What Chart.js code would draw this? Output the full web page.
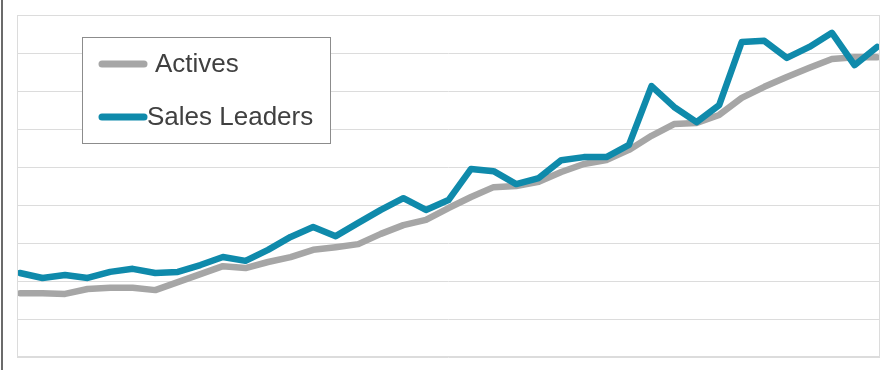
<!DOCTYPE html>
<html>
<head>
<meta charset="utf-8">
<title>Actives vs Sales Leaders</title>
<script src="https://cdn.jsdelivr.net/npm/chart.js@4"></script>
<style>
    html, body { margin: 0; padding: 0; background: #ffffff; }
    #wrap { position: relative; width: 893px; height: 370px; }
</style>
</head>
<body>
<div id="wrap"><canvas id="trendChart" width="893" height="370"></canvas></div>
<script>
// period index along the x axis
const periods = [0, 1, 2, 3, 4, 5, 6, 7, 8, 9, 10, 11, 12, 13, 14, 15, 16, 17, 18, 19,
    20, 21, 22, 23, 24, 25, 26, 27, 28, 29, 30, 31, 32, 33, 34, 35, 36, 37, 38];

const activesValues = [16.8, 16.8, 16.6, 17.9, 18.2, 18.2, 17.6, 19.7, 21.8, 23.9,
    23.4, 25.0, 26.3, 28.2, 28.9, 29.7, 32.4, 34.7, 36.1, 39.2,
    42.1, 44.7, 45.0, 46.1, 48.7, 50.8, 51.8, 54.5, 58.2, 61.3,
    61.6, 63.7, 68.2, 71.1, 73.7, 76.1, 78.4, 78.9, 78.9];

const salesLeadersValues = [22.1, 20.8, 21.6, 20.8, 22.4, 23.2, 22.1, 22.4, 24.2, 26.3,
    25.3, 28.2, 31.6, 34.2, 31.8, 35.3, 38.7, 41.8, 38.7, 41.3,
    49.5, 48.9, 45.5, 47.1, 51.8, 52.6, 52.6, 55.8, 71.3, 65.8,
    61.8, 66.3, 82.9, 83.2, 78.7, 81.6, 85.3, 76.8, 81.6];

// y gridlines every 10 units
const yTicks = [0, 10, 20, 30, 40, 50, 60, 70, 80, 90];

const grayColor = '#a6a6a6';
const blueColor = '#0f8aab';

// outer frame line, plot box and the boxed legend
const framePlugin = {
    id: 'framePlugin',
    beforeDraw(chart) {
        const ctx = chart.ctx;
        ctx.save();
        ctx.fillStyle = '#ffffff';
        ctx.fillRect(0, 0, chart.width, chart.height);
        ctx.fillStyle = '#6b6b6b';
        ctx.fillRect(1, 0, 2, chart.height);
        ctx.restore();
    },
    afterDraw(chart) {
        const ctx = chart.ctx;
        const area = chart.chartArea;
        ctx.save();
        ctx.strokeStyle = '#dcdcdc';
        ctx.lineWidth = 1;
        ctx.strokeRect(area.left + 0.5, area.top + 0.5, area.right - area.left - 1, area.bottom - area.top - 1);

        // legend box
        const bx = 82, by = 37, bw = 248, bh = 106;
        ctx.fillStyle = '#ffffff';
        ctx.fillRect(bx, by, bw, bh);
        ctx.strokeStyle = '#8c8c8c';
        ctx.strokeRect(bx + 0.5, by + 0.5, bw, bh);

        const rows = [
            { y: 64, textX: 155 },
            { y: 117, textX: 147 }
        ];
        ctx.font = '26px "Liberation Sans", Arial, sans-serif';
        ctx.textBaseline = 'middle';
        chart.data.datasets.forEach((ds, i) => {
            const r = rows[i];
            ctx.strokeStyle = ds.borderColor;
            ctx.lineWidth = 7;
            ctx.lineCap = 'round';
            ctx.beginPath();
            ctx.moveTo(102, r.y);
            ctx.lineTo(144, r.y);
            ctx.stroke();
            ctx.fillStyle = '#404040';
            ctx.fillText(ds.label, r.textX, r.y + 1);
        });
        ctx.restore();
    }
};

const config = {
    type: 'line',
    data: {
        labels: periods,
        datasets: [{
            label: 'Actives',
            data: periods.map((p, i) => ({ x: p, y: activesValues[i] })),
            borderColor: grayColor,
            borderWidth: 6.5,
            pointRadius: 0,
            tension: 0,
            borderJoinStyle: 'round',
            borderCapStyle: 'round',
            order: 2
        },
        {
            label: 'Sales Leaders',
            data: periods.map((p, i) => ({ x: p, y: salesLeadersValues[i] })),
            borderColor: blueColor,
            borderWidth: 6.5,
            pointRadius: 0,
            tension: 0,
            borderJoinStyle: 'round',
            borderCapStyle: 'round',
            order: 1
        }]
    },
    options: {
        responsive: false,
        animation: false,
        devicePixelRatio: 1,
        layout: { padding: { left: 17, top: 15, right: 13, bottom: 13 } },
        plugins: {
            legend: { display: false },
            tooltip: { enabled: false }
        },
        scales: {
            x: {
                type: 'linear',
                min: -0.13,
                max: 38.13,
                display: true,
                ticks: { display: false },
                grid: { display: false, drawTicks: false },
                border: { display: false }
            },
            y: {
                min: yTicks[0],
                max: yTicks[yTicks.length - 1],
                afterBuildTicks: axis => { axis.ticks = yTicks.map(v => ({ value: v })); },
                ticks: { display: false },
                grid: { color: '#dcdcdc', lineWidth: 1, drawTicks: false },
                border: { display: false }
            }
        }
    },
    plugins: [framePlugin]
};

window.trendChart = new Chart(document.getElementById('trendChart'), config);
</script>
</body>
</html>
